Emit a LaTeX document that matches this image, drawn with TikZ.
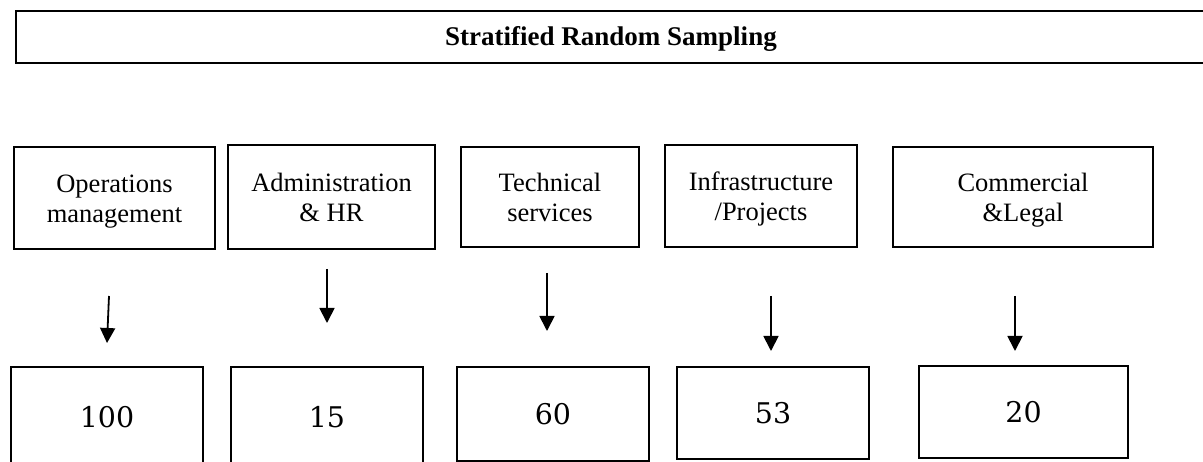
\documentclass[tikz,border=0pt]{standalone}
\usepackage{fontspec}
\newfontfamily\tnr{Liberation Serif}
\newfontfamily\numfont{DejaVu Serif}
\usetikzlibrary{arrows.meta}
\begin{document}
\begin{tikzpicture}[x=1pt,y=-1pt,
  box/.style={draw=black, line width=1.6pt, rectangle, inner sep=0pt, outer sep=0pt, fill=none},
  lbl/.style={box, align=center, text height=50pt, text depth=0pt, font=\tnr\fontsize{26.5}{30}\selectfont},
  numbox/.style={box, font=\numfont\fontsize{28.5}{32}\selectfont},
  arr/.style={line width=1.8pt, -{Triangle[width=15pt,length=15pt]}}]
\useasboundingbox (0,0) rectangle (1203,462);
\fill[white] (0,0) rectangle (1203,462);
% title
\node[box, minimum width=1194pt, minimum height=52pt] (title) at (613,37) {};
\node[font=\tnr\bfseries\fontsize{27}{30}\selectfont, inner sep=0pt] (titletext) at (611,39) {Stratified Random Sampling};
% strata
\node[lbl, minimum width=201pt, minimum height=102pt] (t1) at (114.5,198) {Operations\\management};
\node[lbl, minimum width=207pt, minimum height=104pt] (t2) at (331.5,197) {Administration\\\& HR};
\node[lbl, minimum width=178pt, minimum height=100pt] (t3) at (550,197) {Technical\\services};
\node[lbl, minimum width=192pt, minimum height=102pt] (t4) at (761,196) {Infrastructure\\/Projects};
\node[lbl, minimum width=260pt, minimum height=100pt] (t5) at (1023,197) {Commercial\\\&Legal};
% sample sizes
\node[numbox, minimum width=192pt, minimum height=101pt] (b1) at (107,417.5) {100};
\node[numbox, minimum width=192pt, minimum height=101pt] (b2) at (327,417.5) {15};
\node[numbox, minimum width=192pt, minimum height=94pt] (b3) at (553,414) {60};
\node[numbox, minimum width=192pt, minimum height=92pt] (b4) at (773,413) {53};
\node[numbox, minimum width=209pt, minimum height=92pt] (b5) at (1023.5,412) {20};
% arrows
\coordinate (a1s) at (109,296); \coordinate (a1e) at (107,343);
\coordinate (a2s) at (327,269); \coordinate (a2e) at (327,323);
\coordinate (a3s) at (547,273); \coordinate (a3e) at (547,331);
\coordinate (a4s) at (771,296); \coordinate (a4e) at (771,351);
\coordinate (a5s) at (1015,296); \coordinate (a5e) at (1015,351);
\draw[arr] (a1s) -- (a1e);
\draw[arr] (a2s) -- (a2e);
\draw[arr] (a3s) -- (a3e);
\draw[arr] (a4s) -- (a4e);
\draw[arr] (a5s) -- (a5e);
\end{tikzpicture}
\end{document}
